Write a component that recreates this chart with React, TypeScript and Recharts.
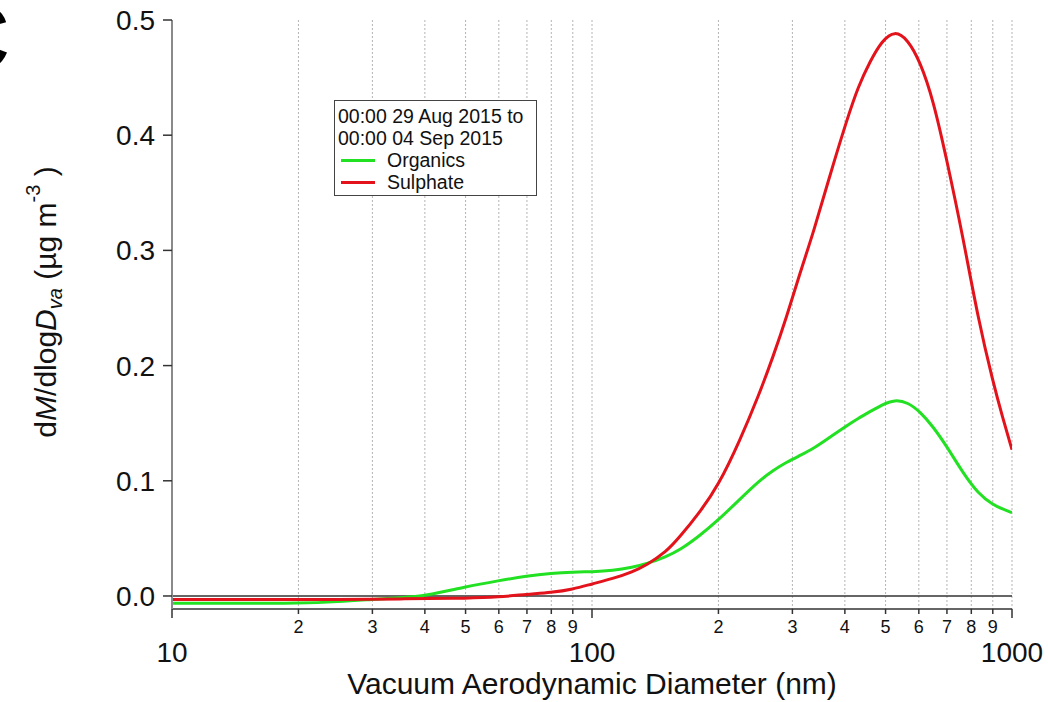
import React from 'react';
import {
  LineChart,
  Line,
  XAxis,
  YAxis,
  CartesianGrid,
  ReferenceLine,
  Legend,
} from 'recharts';

// vacuum aerodynamic diameter (nm)
const diameters = [
  10, 15, 20, 25, 30, 35, 40, 50, 60, 70, 80, 90, 100, 112, 125, 135, 150, 162, 180, 200,
  225, 250, 270, 290, 313, 337, 369, 405, 430, 459, 490, 526, 565, 604, 649, 700, 764, 830,
  902, 950, 1000,
];

const organics = [
  -0.0064, -0.0064, -0.0064, -0.005, -0.003, -0.0015, 0.0, 0.008, 0.0133, 0.0174, 0.0197,
  0.0208, 0.021, 0.022, 0.025, 0.028, 0.034, 0.04, 0.052, 0.066, 0.084, 0.1, 0.109, 0.116,
  0.122, 0.128, 0.138, 0.148, 0.154, 0.16, 0.166, 0.1705, 0.168, 0.16, 0.147, 0.1296, 0.107,
  0.089, 0.079, 0.0755, 0.0723,
];

const sulphate = [
  -0.003, -0.003, -0.003, -0.003, -0.003, -0.0025, -0.0022, -0.002, -0.001, 0.0015, 0.003,
  0.0058, 0.0105, 0.015, 0.021, 0.027, 0.038, 0.0515, 0.072, 0.096, 0.135, 0.175, 0.208,
  0.241, 0.281, 0.316, 0.366, 0.414, 0.442, 0.464, 0.482, 0.491, 0.483, 0.464, 0.431, 0.378,
  0.312, 0.241, 0.185, 0.155, 0.127,
];

const xTicks = [10, 20, 30, 40, 50, 60, 70, 80, 90, 100, 200, 300, 400, 500, 600, 700, 800, 900, 1000];
const majorTicks = [10, 100, 1000];
const yTicks = [0, 0.1, 0.2, 0.3, 0.4, 0.5];
const yDomain = [-0.0113, 0.5];

const legendTitle = ['00:00 29 Aug 2015 to', '00:00 04 Sep 2015'];

const FONT = "'Liberation Sans', Arial, sans-serif";

const rows = diameters.map((d, i) => ({ d, organics: organics[i], sulphate: sulphate[i] }));

const BottomTick = (props: any) => {
  const { x, y, payload } = props;
  const v = payload.value;
  const major = majorTicks.includes(v);
  const digit = Math.round(v / Math.pow(10, Math.floor(Math.log10(v) + 1e-9)));
  return (
    <g>
      <line x1={x} x2={x} y1={y} y2={y + (major ? 9 : 5)} stroke="#333" strokeWidth={1.5} />
      {major ? (
        <text x={x} y={y + 53} fontSize={28} textAnchor="middle" fill="#111" fontFamily={FONT}>
          {v}
        </text>
      ) : (
        <text x={x} y={y + 24} fontSize={18} textAnchor="middle" fill="#111" fontFamily={FONT}>
          {digit}
        </text>
      )}
    </g>
  );
};

const TopTick = (props: any) => {
  const { x, y } = props;
  return <line x1={x} x2={x} y1={y - 5} y2={y + 4} stroke="#333" strokeWidth={1.2} />;
};

const LeftTick = (props: any) => {
  const { x, y, payload } = props;
  return (
    <g>
      <line x1={x - 9} x2={x} y1={y} y2={y} stroke="#333" strokeWidth={1.5} />
      <text x={x - 17} y={y + 10} fontSize={28} textAnchor="end" fill="#111" fontFamily={FONT}>
        {payload.value.toFixed(1)}
      </text>
    </g>
  );
};

const RightTick = (props: any) => {
  const { x, y } = props;
  return <line x1={x - 6} x2={x + 8} y1={y} y2={y} stroke="#222" strokeWidth={1.5} />;
};

const YTitle = () => (
  <text
    transform="rotate(-90, 56, 302)"
    x={56}
    y={302}
    fontSize={30}
    textAnchor="middle"
    fill="#111"
    fontFamily={FONT}
  >
    <tspan>d</tspan>
    <tspan fontStyle="italic">M</tspan>
    <tspan>/dlog</tspan>
    <tspan fontStyle="italic">D</tspan>
    <tspan fontStyle="italic" fontSize={20} dy={6}>va</tspan>
    <tspan dy={-6}> (µg m</tspan>
    <tspan fontSize={20} dy={-16}>-3</tspan>
    <tspan dy={16}> )</tspan>
  </text>
);

const XTitle = () => (
  <text x={592} y={694} fontSize={30} textAnchor="middle" fill="#111" fontFamily={FONT}>
    Vacuum Aerodynamic Diameter (nm)
  </text>
);

const LegendBox = (props: any) => {
  const { payload } = props;
  return (
    <div
      style={{
        border: '1.5px solid #444',
        background: '#fff',
        width: 203,
        padding: '4px 0 2px 3px',
        fontFamily: FONT,
        fontSize: 19.5,
        lineHeight: '22px',
        color: '#111',
        boxSizing: 'border-box',
      }}
    >
      {legendTitle.map((t) => (
        <div key={t}>{t}</div>
      ))}
      {(payload || []).map((entry: any) => (
        <div key={entry.value} style={{ display: 'flex', alignItems: 'center' }}>
          <span
            style={{
              display: 'inline-block',
              width: 34,
              height: 3,
              background: entry.color,
              marginLeft: 3,
              marginRight: 12,
            }}
          />
          <span>{entry.value}</span>
        </div>
      ))}
    </div>
  );
};

const App = () => {
  return (
    <div style={{ position: 'absolute', left: 0, top: 0, width: 1048, height: 702, background: '#fff' }}>
      <LineChart
        width={1048}
        height={702}
        data={rows}
        margin={{ top: 20, right: 36, bottom: 63, left: 112 }}
        style={{ fontFamily: FONT }}
      >
        <CartesianGrid vertical horizontal={false} stroke="#b4b4b4" strokeDasharray="2 2" />
        <XAxis
          dataKey="d"
          type="number"
          scale="log"
          domain={[10, 1000]}
          ticks={xTicks}
          interval={0}
          allowDataOverflow
          tickSize={0}
          tickMargin={0}
          tickLine={false}
          tick={(p: any) => <BottomTick {...p} />}
          axisLine={{ stroke: '#333', strokeWidth: 1.5 }}
          height={30}
          label={{ content: () => <XTitle /> }}
        />
        <XAxis
          xAxisId="top"
          orientation="top"
          dataKey="d"
          type="number"
          scale="log"
          domain={[10, 1000]}
          ticks={xTicks}
          interval={0}
          allowDataOverflow
          tickSize={0}
          tickMargin={0}
          tickLine={false}
          tick={(p: any) => <TopTick {...p} />}
          axisLine={{ stroke: '#222', strokeWidth: 1.5 }}
          height={0}
        />
        <YAxis
          type="number"
          domain={yDomain}
          ticks={yTicks}
          interval={0}
          allowDataOverflow
          tickSize={0}
          tickMargin={0}
          tickLine={false}
          tick={(p: any) => <LeftTick {...p} />}
          axisLine={{ stroke: '#8a8a8a', strokeWidth: 2 }}
          width={60}
          label={{ content: () => <YTitle /> }}
        />
        <YAxis
          yAxisId="right"
          orientation="right"
          type="number"
          domain={yDomain}
          ticks={yTicks}
          interval={0}
          allowDataOverflow
          tickSize={0}
          tickMargin={0}
          tickLine={false}
          tick={(p: any) => <RightTick {...p} />}
          axisLine={{ stroke: '#111', strokeWidth: 1.5 }}
          width={0}
        />
        <ReferenceLine y={0} stroke="#333" strokeWidth={1.5} />
        <Legend
          layout="vertical"
          verticalAlign="middle"
          align="center"
          content={(p: any) => <LegendBox {...p} />}
          wrapperStyle={{ position: 'absolute', left: 334, top: 100, width: 203, height: 96 }}
        />
        <Line
          type="basis"
          dataKey="organics"
          name="Organics"
          stroke="#22e022"
          strokeWidth={3}
          dot={false}
          isAnimationActive={false}
        />
        <Line
          type="basis"
          dataKey="sulphate"
          name="Sulphate"
          stroke="#e3121b"
          strokeWidth={3}
          dot={false}
          isAnimationActive={false}
        />
      </LineChart>
      <svg width={40} height={80} style={{ position: 'absolute', left: 0, top: 0 }}>
        <text x={-59} y={70} fontSize={95} fontWeight="bold" fontFamily={FONT} fill="#000">
          C
        </text>
      </svg>
    </div>
  );
};

export default App;
